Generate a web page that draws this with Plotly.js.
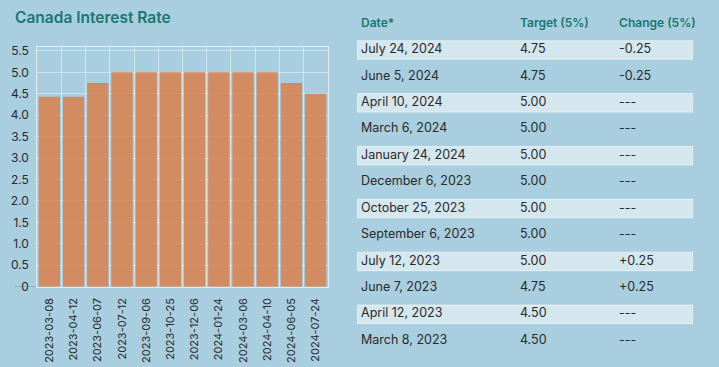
<!DOCTYPE html>
<html>
<head>
<meta charset="utf-8">
<script src="https://cdn.plot.ly/plotly-3.0.1.min.js"></script>
<style>html,body{margin:0;padding:0;background:#a9cedf;}#chart{width:719px;height:367px;}</style>
</head>
<body>
<div id="chart"></div>
<script>
// ---- Data ----
var chartTitle = 'Canada Interest Rate';
var dates = ['2023-03-08','2023-04-12','2023-06-07','2023-07-12','2023-09-06','2023-10-25','2023-12-06','2024-01-24','2024-03-06','2024-04-10','2024-06-05','2024-07-24'];
var rates = [4.43, 4.43, 4.75, 5, 5, 5, 5, 5, 5, 5, 4.75, 4.5];
var yTickVals = [0, 0.5, 1, 1.5, 2, 2.5, 3, 3.5, 4, 4.5, 5, 5.5];
var yTickText = ['0', '0.5', '1.0', '1.5', '2.0', '2.5', '3.0', '3.5', '4.0', '4.5', '5.0', '5.5'];

var tableHeaders = ['Date*', 'Target (5%)', 'Change (5%)'];
var tableDates = ['July 24, 2024', 'June 5, 2024', 'April 10, 2024', 'March 6, 2024', 'January 24, 2024', 'December 6, 2023', 'October 25, 2023', 'September 6, 2023', 'July 12, 2023', 'June 7, 2023', 'April 12, 2023', 'March 8, 2023'];
var tableTargets = ['4.75', '4.75', '5.00', '5.00', '5.00', '5.00', '5.00', '5.00', '5.00', '4.75', '4.50', '4.50'];
var tableChanges = ['-0.25', '-0.25', '---', '---', '---', '---', '---', '---', '+0.25', '+0.25', '---', '---'];

// ---- Styling ----
var BG = '#a9cedf';
var TEAL = '#17796e';
var TXT = '#2a2a2a';
var FONT = 'Inter, "Noto Sans", sans-serif';
var colX = [0.012, 0.485, 0.78];

var rowPos = tableDates.map(function (d, i) { return i + 1; });
var bandRows = rowPos.filter(function (r) { return r % 2 === 1; });

var traces = [];
traces.push({
  type: 'bar', x: dates, y: rates, xaxis: 'x', yaxis: 'y',
  marker: { color: 'rgb(215,133,85)' }, opacity: 0.9,
  hoverinfo: 'x+y', showlegend: false
});
traces.push({
  type: 'bar', orientation: 'h', y: bandRows, x: bandRows.map(function () { return 1; }),
  base: 0, width: 0.7, xaxis: 'x2', yaxis: 'y2',
  marker: { color: '#d4e6ee', line: { color: 'rgba(255,255,255,0.55)', width: 1 } },
  hoverinfo: 'skip', showlegend: false
});
var cols = [tableDates, tableTargets, tableChanges];
cols.forEach(function (col, c) {
  traces.push({
    type: 'scatter', mode: 'text', x: col.map(function () { return colX[c]; }), y: rowPos,
    text: col, textposition: 'middle right', xaxis: 'x2', yaxis: 'y2',
    textfont: { family: FONT, size: 12.5, color: TXT }, hoverinfo: 'skip', showlegend: false, cliponaxis: false
  });
});
traces.push({
  type: 'scatter', mode: 'text', x: colX, y: tableHeaders.map(function () { return 0; }),
  text: tableHeaders, textposition: 'middle right', xaxis: 'x2', yaxis: 'y2',
  textfont: { family: FONT, size: 12, color: TEAL, weight: 600 }, hoverinfo: 'skip', showlegend: false, cliponaxis: false
});

var layout = {
  width: 719, height: 367,
  paper_bgcolor: BG, plot_bgcolor: BG,
  margin: { l: 37, r: 26, t: 0, b: 0, pad: 0 },
  font: { family: FONT, color: TXT },
  title: {
    text: chartTitle, xref: 'container', yref: 'container', x: 15 / 719, xanchor: 'left',
    y: 1 - 18 / 367, yanchor: 'middle',
    font: { family: FONT, size: 15.5, color: TEAL, weight: 600 }
  },
  bargap: 0.12,
  xaxis: {
    domain: [0.3 / 656, 290.7 / 656], type: 'category', tickangle: -90,
    tickson: 'boundaries', showgrid: true, gridcolor: 'rgba(255,255,255,0.45)', gridwidth: 1,
    showline: true, mirror: true, linecolor: 'rgba(255,255,255,0.65)', linewidth: 1,
    ticks: '', ticklabelstandoff: 6,
    tickfont: { family: FONT, size: 11, color: TXT }, fixedrange: true
  },
  yaxis: {
    domain: [80.3 / 367, 319.7 / 367], range: [0, 5.583],
    tickvals: yTickVals, ticktext: yTickText,
    showgrid: true, gridcolor: 'rgba(255,255,255,0.4)', gridwidth: 1, zeroline: false,
    showline: true, mirror: true, linecolor: 'rgba(255,255,255,0.65)', linewidth: 1,
    ticks: '', ticklabelstandoff: 5,
    tickfont: { family: FONT, size: 12, color: TXT }, fixedrange: true
  },
  xaxis2: {
    domain: [320 / 656, 1], range: [0, 1], anchor: 'y2',
    showgrid: false, zeroline: false, showline: false, showticklabels: false, fixedrange: true
  },
  yaxis2: {
    domain: [0, 1], range: [12.994, -0.892], anchor: 'x2',
    showgrid: false, zeroline: false, showline: false, showticklabels: false, fixedrange: true
  },
  shapes: [{
    type: 'line', xref: 'paper', yref: 'y', x0: -22 / 656, x1: 0, y0: 0, y1: 0,
    line: { color: '#8f9ca3', width: 1 }, layer: 'below'
  }]
};

Plotly.newPlot('chart', traces, layout, { displayModeBar: false, staticPlot: true });
</script>
</body>
</html>
